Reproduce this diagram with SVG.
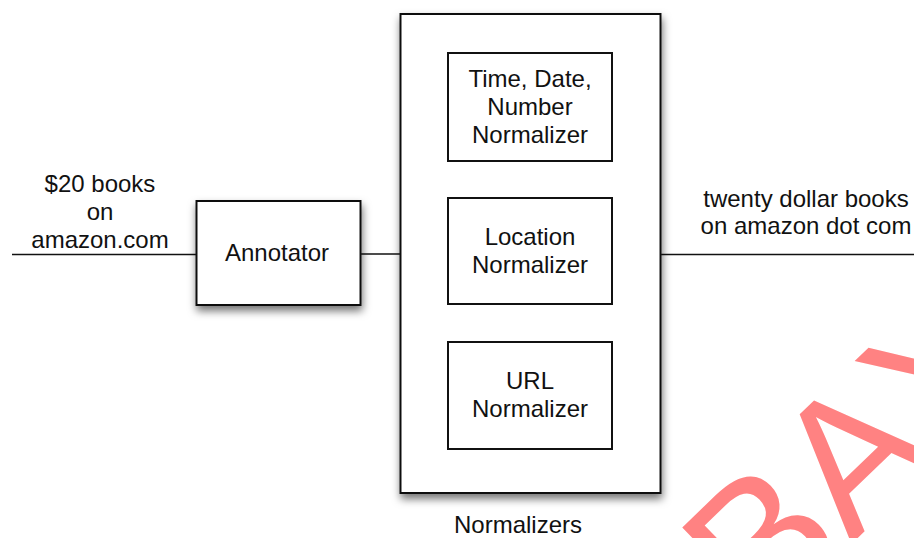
<svg xmlns="http://www.w3.org/2000/svg" width="914" height="538" viewBox="0 0 914 538">
  <defs>
    <filter id="shadow" x="-20%" y="-20%" width="140%" height="140%">
      <feDropShadow dx="1" dy="5" stdDeviation="4" flood-color="#000" flood-opacity="0.55"/>
    </filter>
  </defs>
  <style>
    .box { fill: #fff; stroke: #111; stroke-width: 2; }
    .lbl { font-family: "Liberation Sans", Arial, sans-serif; font-size: 24px; fill: #111; text-anchor: middle; }
    .wire { stroke: #111; stroke-width: 1.6; fill: none; }
    .wm { font-family: "Liberation Sans", Arial, sans-serif; font-size: 188px; fill: #ff8282; font-kerning: none; }
  </style>
  <rect width="914" height="538" fill="#fff"/>

  <g id="connectors">
    <line class="wire" x1="12" y1="254.5" x2="196" y2="254.5"/>
    <line class="wire" x1="360" y1="254" x2="400" y2="254"/>
    <line class="wire" x1="661" y1="254.5" x2="914" y2="254.5"/>
  </g>

  <g id="input-label">
    <text class="lbl" x="100" y="192">$20 books</text>
    <text class="lbl" x="100" y="220">on</text>
    <text class="lbl" x="100" y="248">amazon.com</text>
  </g>

  <g id="output-label">
    <text class="lbl" x="806" y="207">twenty dollar books</text>
    <text class="lbl" x="806" y="234">on amazon dot com</text>
  </g>

  <g id="annotator">
    <rect class="box" x="196.5" y="201" width="164" height="104" filter="url(#shadow)"/>
    <text class="lbl" x="277" y="261">Annotator</text>
  </g>

  <g id="normalizers">
    <rect class="box" x="400.5" y="14" width="260" height="479" filter="url(#shadow)"/>
    <text class="lbl" x="518" y="533">Normalizers</text>
  </g>

  <g id="time-date-number-normalizer">
    <rect class="box" x="448" y="53" width="164" height="108"/>
    <text class="lbl" x="530" y="87">Time, Date,</text>
    <text class="lbl" x="530" y="115">Number</text>
    <text class="lbl" x="530" y="143">Normalizer</text>
  </g>

  <g id="location-normalizer">
    <rect class="box" x="448" y="198" width="164" height="106"/>
    <text class="lbl" x="530" y="245">Location</text>
    <text class="lbl" x="530" y="273">Normalizer</text>
  </g>

  <g id="url-normalizer">
    <rect class="box" x="448" y="342" width="164" height="107"/>
    <text class="lbl" x="530" y="389">URL</text>
    <text class="lbl" x="530" y="417">Normalizer</text>
  </g>

  <text class="wm" x="0" y="0" transform="translate(761.1 631.3) rotate(-44)">BAY</text>
</svg>
